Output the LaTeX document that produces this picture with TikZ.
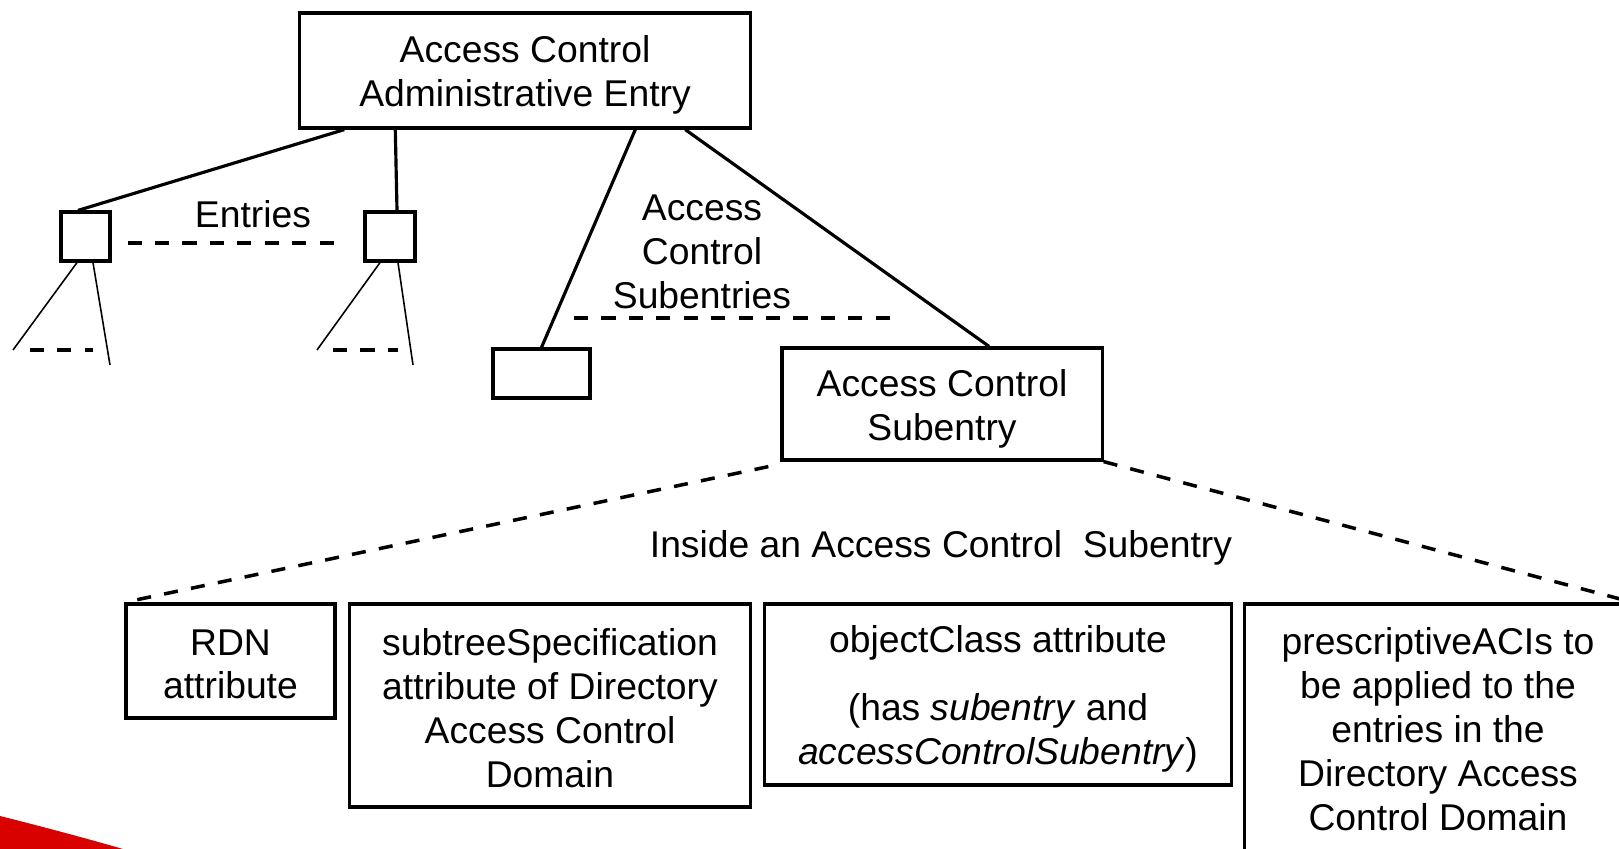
\documentclass[tikz,border=0pt]{standalone}
\usepackage{fontspec}
\setmainfont{Liberation Sans}
\usetikzlibrary{positioning, calc}

\newcommand{\topstrut}[1][10.2pt]{\rule{0pt}{#1}}

\tikzset{
    box/.style={draw, line width=0.9pt, inner sep=0pt, align=center},
    edge/.style={line width=0.9pt},
    twig/.style={line width=0.45pt},
    dashline/.style={line width=1pt, dash pattern=on 4pt off 3.8pt},
}

\begin{document}
\begin{tikzpicture}[x=0.01cm, y=-0.01cm, font=\fontsize{10.6}{12.5}\selectfont]
        \useasboundingbox (0,0) rectangle (1619,849);
        % corner of the slide background
        \fill[red!85!black] (0,816) .. controls (40,826) and (85,838) .. (123,849) -- (0,849) -- cycle;

        % tree
        \node[box, minimum width=4.5cm, minimum height=1.15cm] (admin) at (525,70.5) {\topstrut Access Control\\Administrative Entry};
        \node[box, minimum width=0.49cm, minimum height=0.49cm] (e1) at (85.5,236.5) {};
        \node[box, minimum width=0.5cm, minimum height=0.49cm] (e2) at (390,236.5) {};
        \node[box, minimum width=0.97cm, minimum height=0.49cm] (gap) at (541.5,373.5) {};
        \node[box, minimum width=3.2cm, minimum height=1.12cm] (sub) at (942,404) {\topstrut Access Control\\Subentry};

        \draw[edge] ($(admin.south west)+(46,0)$) -- ($(e1.north)+(-7.5,0)$);
        \draw[edge] ($(admin.south west)+(97,0)$) -- ($(e2.north)+(7,0)$);
        \draw[edge] ($(admin.south west)+(337,0)$) -- (gap.north);
        \draw[edge] ($(admin.south west)+(387,0)$) -- ($(sub.north)+(47,0)$);

        \node (entries) at (253,214) {Entries};
        \draw[dashline] ($(e1.east)+(16,6.5)$) -- ($(e2.west)+(-27,6.5)$);

        % below the entries
        \coordinate (a1) at (13,350);
        \coordinate (b1) at (110,365);
        \coordinate (a2) at (317,350);
        \coordinate (b2) at (413,365);
        \draw[twig] ($(e1.south)+(-8.5,0)$) -- (a1);
        \draw[twig] ($(e1.south)+(7.5,0)$) -- (b1);
        \draw[twig] ($(e2.south)+(-10,0)$) -- (a2);
        \draw[twig] ($(e2.south)+(8,0)$) -- (b2);
        \draw[dashline] (30,350) -- (93,350);
        \draw[dashline] (333,350) -- (398,350);

        \node[align=center] (subs) at (702,252) {Access\\Control\\Subentries};
        \draw[dashline] (574,318) -- (898,318);

        % inside the subentry
        \node[box, minimum width=2.09cm, minimum height=1.14cm] (rdn) at (230.5,661) {\topstrut[9.2pt]RDN\\attribute};
        \node[box, minimum width=4.0cm, minimum height=2.03cm] (spec) at (550,705.5) {\topstrut[9.2pt]subtreeSpecification\\attribute of Directory\\Access Control\\Domain};
        \node[box, minimum width=4.66cm, minimum height=1.81cm] (oc) at (998,694.5) {\topstrut objectClass attribute\\[6.8pt](has \textit{subentry} and\\\textit{accessControlSubentry})};
        \node[box, minimum width=3.86cm, minimum height=2.51cm] (aci) at (1438,729.5) {prescriptiveACIs to\\be applied to the\\entries in the\\Directory Access\\Control Domain};

        \draw[dashline] ($(sub.south west)+(-12,5)$) -- (rdn.north west);
        \draw[dashline] (sub.south east) -- (aci.north east);
        \node (inside) at (941,548) {Inside an Access Control~ Subentry};
    \end{tikzpicture}
\end{document}
